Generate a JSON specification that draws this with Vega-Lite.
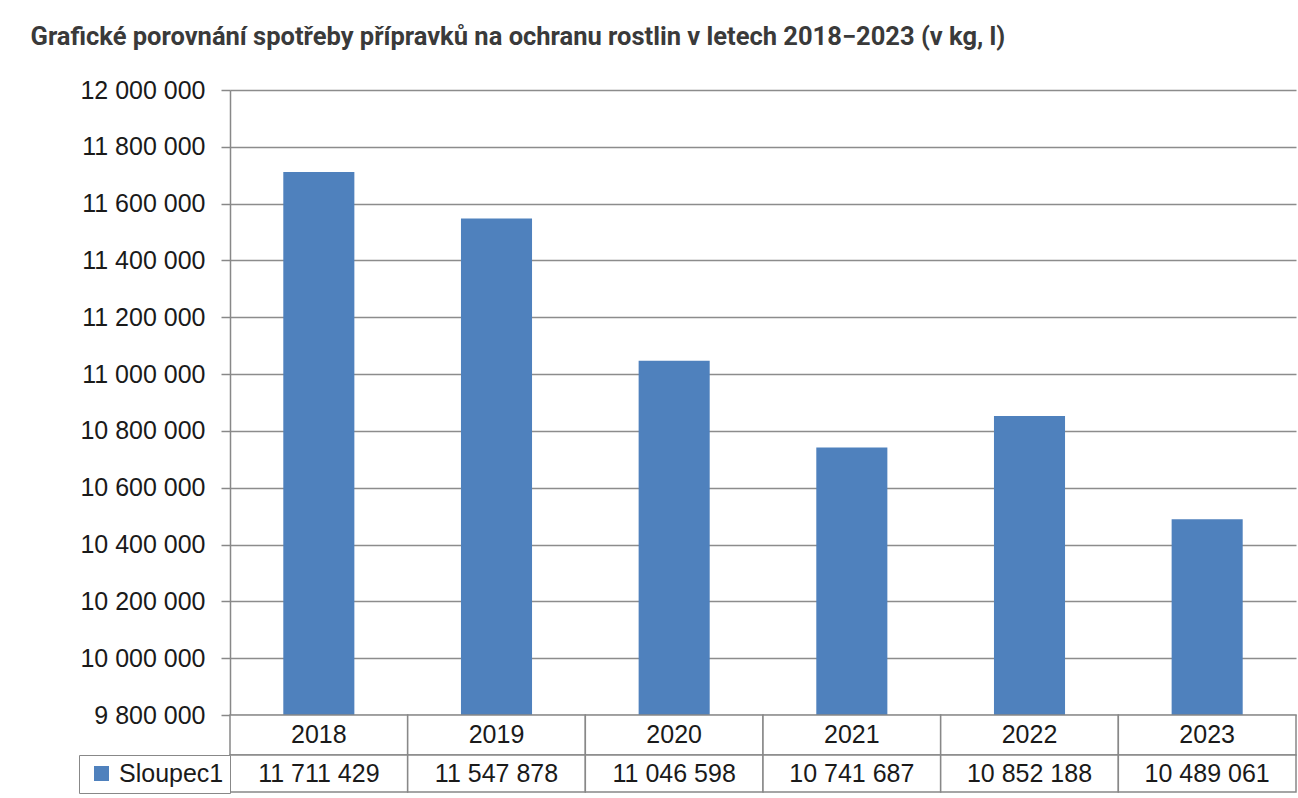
{
  "$schema": "https://vega.github.io/schema/vega-lite/v6.json",
  "background": "white",
  "padding": {"left": 30, "top": 24, "right": 0, "bottom": 0},
  "config": {
    "locale": {"number": {"decimal": ",", "thousands": " ", "grouping": [3], "currency": ["", ""]}},
    "view": {"stroke": null},
    "font": "Liberation Sans",
    "concat": {"spacing": 0}
  },
  "title": {
    "text": "Grafické porovnání spotřeby přípravků na ochranu rostlin v letech 2018−2023 (v kg, l)",
    "anchor": "start", "frame": "bounds", "font": "Roboto", "fontSize": 25.5, "fontWeight": "bold",
    "color": "#3a3a3a", "dx": -48, "offset": 28
  },
  "datasets": {
    "spotreba": [
      {"rok": "2018", "hodnota": 11711429, "serie": "Sloupec1"},
      {"rok": "2019", "hodnota": 11547878, "serie": "Sloupec1"},
      {"rok": "2020", "hodnota": 11046598, "serie": "Sloupec1"},
      {"rok": "2021", "hodnota": 10741687, "serie": "Sloupec1"},
      {"rok": "2022", "hodnota": 10852188, "serie": "Sloupec1"},
      {"rok": "2023", "hodnota": 10489061, "serie": "Sloupec1"}
    ]
  },
  "data": {"name": "spotreba"},
  "bounds": "flush",
  "resolve": {"legend": {"color": "independent"}, "scale": {"color": "independent"}},
  "vconcat": [
    {
      "width": 1066,
      "height": 625,
      "mark": {"type": "bar", "color": "#4f81bd"},
      "encoding": {
        "x": {"field": "rok", "type": "nominal", "scale": {"paddingInner": 0.6, "paddingOuter": 0.3}, "axis": null},
        "y": {
          "field": "hodnota", "type": "quantitative",
          "scale": {"domain": [9800000, 12000000], "nice": false, "zero": false},
          "axis": {
            "title": null,
            "values": [9800000, 10000000, 10200000, 10400000, 10600000, 10800000, 11000000, 11200000, 11400000, 11600000, 11800000, 12000000],
            "format": ",d",
            "labelFontSize": 25, "labelColor": "#1a1a1a", "labelFont": "Liberation Sans",
            "labelPadding": 16, "tickSize": 9, "tickColor": "#888888", "tickWidth": 1.5,
            "domainColor": "#888888", "domainWidth": 1.5,
            "gridColor": "#8c8c8c", "gridWidth": 1.3
          }
        },
        "y2": {"datum": 9800000}
      }
    },
    {
      "width": 1066,
      "height": 40,
      "encoding": {
        "x": {"field": "rok", "type": "nominal", "scale": {"paddingInner": 0, "paddingOuter": 0}, "axis": null}
      },
      "layer": [
        {"mark": {"type": "rect", "fill": "white", "stroke": "#888888", "strokeWidth": 1.5}},
        {"mark": {"type": "text", "fontSize": 25, "color": "#1a1a1a", "baseline": "middle", "font": "Liberation Sans"},
         "encoding": {"text": {"field": "rok"}}}
      ]
    },
    {
      "width": 1066,
      "height": 37,
      "encoding": {
        "x": {"field": "rok", "type": "nominal", "scale": {"paddingInner": 0, "paddingOuter": 0}, "axis": null}
      },
      "layer": [
        {"mark": {"type": "rect", "fill": "white", "stroke": "#888888", "strokeWidth": 1.5}},
        {"mark": {"type": "text", "fontSize": 25, "color": "#1a1a1a", "baseline": "middle", "font": "Liberation Sans"},
         "encoding": {"text": {"field": "hodnota", "type": "quantitative", "format": ",d"}}},
        {"mark": {"type": "square", "opacity": 0, "filled": true},
         "encoding": {
           "color": {"field": "serie", "type": "nominal", "scale": {"range": ["#4f81bd"]},
             "legend": {"orient": "left", "offset": 0, "title": null, "strokeColor": "#888888",
               "padding": 6, "fillColor": "white", "symbolType": "square", "symbolSize": 225, "symbolOpacity": 1,
               "symbolStrokeWidth": 0, "symbolOffset": 4, "labelOffset": 5, "labelFontSize": 25, "labelColor": "#1a1a1a",
               "labelFont": "Liberation Sans", "labelLimit": 300}}
         }}
      ]
    }
  ]
}
